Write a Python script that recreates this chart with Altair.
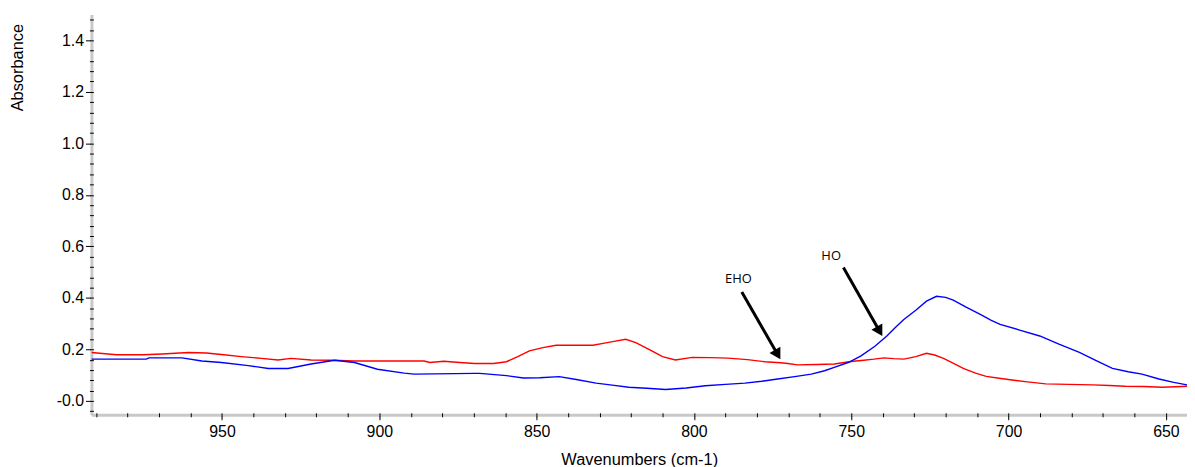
import altair as alt
import pandas as pd

# EHO (red) spectrum: wavenumber (cm-1) and absorbance
eho_wn = [991.5, 983.6, 975.0, 969.1, 960.6, 955.0, 950.2, 943.8, 937.5, 932.2, 928.1, 921.7,
          915.0, 907.9, 897.0, 885.8, 883.9, 879.5, 874.4, 869.7, 863.7, 859.6, 856.0, 852.3,
          848.0, 843.8, 837.0, 832.1, 828.0, 825.8, 821.7, 818.5, 815.4, 812.5, 810.0, 805.9,
          800.5, 795.0, 789.2, 783.0, 777.5, 772.4, 770.2, 767.1, 761.0, 755.4, 750.1, 746.0,
          742.8, 739.6, 736.5, 733.3, 729.5, 726.1, 723.5, 720.7, 717.5, 714.4, 710.5, 707.1,
          703.0, 699.5, 694.0, 688.2, 681.0, 673.3, 668.0, 662.9, 657.0, 651.2, 647.0, 643.3]
eho_abs = [0.188, 0.179, 0.179, 0.182, 0.188, 0.186, 0.180, 0.172, 0.165, 0.159, 0.165, 0.159,
           0.158, 0.155, 0.155, 0.155, 0.149, 0.154, 0.149, 0.145, 0.145, 0.152, 0.172, 0.194,
           0.207, 0.216, 0.216, 0.216, 0.225, 0.230, 0.239, 0.226, 0.207, 0.188, 0.172, 0.159,
           0.169, 0.168, 0.166, 0.160, 0.152, 0.148, 0.145, 0.140, 0.141, 0.143, 0.153, 0.158,
           0.162, 0.167, 0.164, 0.162, 0.172, 0.185, 0.178, 0.165, 0.146, 0.126, 0.108, 0.095,
           0.088, 0.082, 0.074, 0.066, 0.064, 0.062, 0.060, 0.057, 0.056, 0.053, 0.055, 0.057]

# HO (blue) spectrum
ho_wn = [991.5, 974.1, 973.2, 962.7, 956.4, 950.2, 941.6, 935.3, 929.0, 921.7, 914.2, 907.9,
         900.6, 892.1, 888.9, 869.7, 868.1, 859.6, 854.2, 849.0, 842.8, 837.4, 831.1, 826.0,
         820.7, 815.0, 809.0, 802.5, 796.4, 790.0, 783.8, 778.5, 773.4, 768.0, 762.7, 758.5,
         755.4, 750.8, 746.9, 742.5, 738.7, 736.0, 733.3, 729.5, 726.1, 722.9, 720.0, 717.6,
         713.5, 709.0, 705.5, 702.7, 696.5, 690.1, 684.0, 677.5, 672.0, 667.0, 662.0, 657.6,
         652.2, 647.5, 643.3]
ho_abs = [0.162, 0.162, 0.167, 0.167, 0.155, 0.149, 0.137, 0.126, 0.126, 0.143, 0.158, 0.149,
          0.123, 0.108, 0.104, 0.107, 0.107, 0.098, 0.089, 0.090, 0.094, 0.083, 0.069, 0.061,
          0.053, 0.049, 0.044, 0.050, 0.059, 0.064, 0.069, 0.076, 0.085, 0.094, 0.104, 0.117,
          0.130, 0.150, 0.175, 0.212, 0.252, 0.285, 0.316, 0.352, 0.387, 0.406, 0.402, 0.391,
          0.364, 0.336, 0.313, 0.297, 0.275, 0.252, 0.220, 0.188, 0.155, 0.126, 0.113, 0.104,
          0.085, 0.072, 0.062]

# annotation labels and arrows (data coordinates)
ann_text = ["EHO", "HO"]
ann_text_wn = [785.9, 756.4]
ann_text_abs = [0.473, 0.563]
arrow_start_wn = [784.8, 752.5]
arrow_start_abs = [0.423, 0.518]
arrow_head_wn = [773.4, 741.0]
arrow_head_abs = [0.180, 0.270]

x_major = [950, 900, 850, 800, 750, 700, 650]
x_minor = list(range(990, 645, -10))
y_major = [0.0, 0.2, 0.4, 0.6, 0.8, 1.0, 1.2, 1.4]
y_minor = [round(i * 0.04, 2) for i in range(-1, 38)]

X_DOMAIN = [643.3, 991.5]
Y_DOMAIN = [-0.054, 1.5]

df = pd.concat([
    pd.DataFrame({"wn": eho_wn, "abs": eho_abs, "series": "EHO"}),
    pd.DataFrame({"wn": ho_wn, "abs": ho_abs, "series": "HO"}),
])
ann = pd.DataFrame({
    "label": ann_text, "tx": ann_text_wn, "ty": ann_text_abs,
    "sx": arrow_start_wn, "sy": arrow_start_abs,
    "hx": arrow_head_wn, "hy": arrow_head_abs,
})

FONT = "Liberation Sans"
xs = alt.Scale(domain=X_DOMAIN, reverse=True, nice=False, zero=False)
ys = alt.Scale(domain=Y_DOMAIN, nice=False, zero=False)

lines = alt.Chart(df).mark_line(strokeWidth=1.4, clip=True).encode(
    x=alt.X("wn:Q", scale=xs, axis=alt.Axis(
        values=x_major, title="Wavenumbers (cm-1)", orient="bottom", grid=False,
        domainColor="#c8c8c8", domainWidth=3, tickColor="black", tickSize=5, tickWidth=1,
        labelFont=FONT, labelFontSize=16, labelColor="black", labelPadding=4,
        titleFont=FONT, titleFontSize=16.5, titleFontWeight="normal", titleColor="black",
        titlePadding=12, labelFlush=False)),
    y=alt.Y("abs:Q", scale=ys, axis=alt.Axis(
        values=y_major, title="Absorbance", orient="left", grid=False,
        labelExpr="datum.value == 0 ? '-0.0' : format(datum.value, '.1f')",
        domainColor="#c8c8c8", domainWidth=3, tickColor="black", tickSize=6, tickWidth=1,
        labelFont=FONT, labelFontSize=16, labelColor="black", labelPadding=2,
        titleFont=FONT, titleFontSize=16.5, titleFontWeight="normal", titleColor="black",
        titleAnchor="end", titleAngle=270, titleX=-74, titleY=9, titleBaseline="middle",
        titleAlign="right", labelFlush=False)),
    color=alt.Color("series:N", scale=alt.Scale(domain=["EHO", "HO"], range=["#ff0000", "#0000ff"]),
                    legend=None),
    detail="series:N",
)

minor = alt.Chart(df).mark_point(opacity=0).encode(
    x=alt.X("wn:Q", scale=xs, axis=alt.Axis(
        values=x_minor, labels=False, domain=False, grid=False, title=None, orient="bottom",
        tickColor="black", tickSize=4, tickWidth=1, offset=-2)),
    y=alt.Y("abs:Q", scale=ys, axis=alt.Axis(
        values=y_minor, labels=False, domain=False, grid=False, title=None, orient="left",
        tickColor="black", tickSize=4, tickWidth=1, offset=-2)),
)

shafts = alt.Chart(ann).mark_rule(color="black", strokeWidth=3).encode(
    x=alt.X("sx:Q", scale=xs, axis=None), y=alt.Y("sy:Q", scale=ys, axis=None),
    x2="hx:Q", y2="hy:Q",
)
heads = alt.Chart(ann).mark_point(shape="triangle-up", filled=True, color="black", opacity=1,
                                  size=160, angle=150, strokeWidth=0).encode(
    x=alt.X("hx:Q", scale=xs, axis=None), y=alt.Y("hy:Q", scale=ys, axis=None),
)
labels = alt.Chart(ann).mark_text(font="Open Sans", fontSize=13, color="black").encode(
    x=alt.X("tx:Q", scale=xs, axis=None), y=alt.Y("ty:Q", scale=ys, axis=None),
    text="label:N",
)

chart = alt.layer(lines, minor, shafts, heads, labels).resolve_axis(
    x="independent", y="independent"
).properties(
    width=1103, height=403,
    background="white",
    autosize=alt.AutoSizeParams(type="none"),
    padding={"left": 84, "top": 5, "right": 0, "bottom": 51},
).configure_view(strokeWidth=0, stroke="transparent")

chart.save("out.html", embed_options={"renderer": "svg", "actions": False})
